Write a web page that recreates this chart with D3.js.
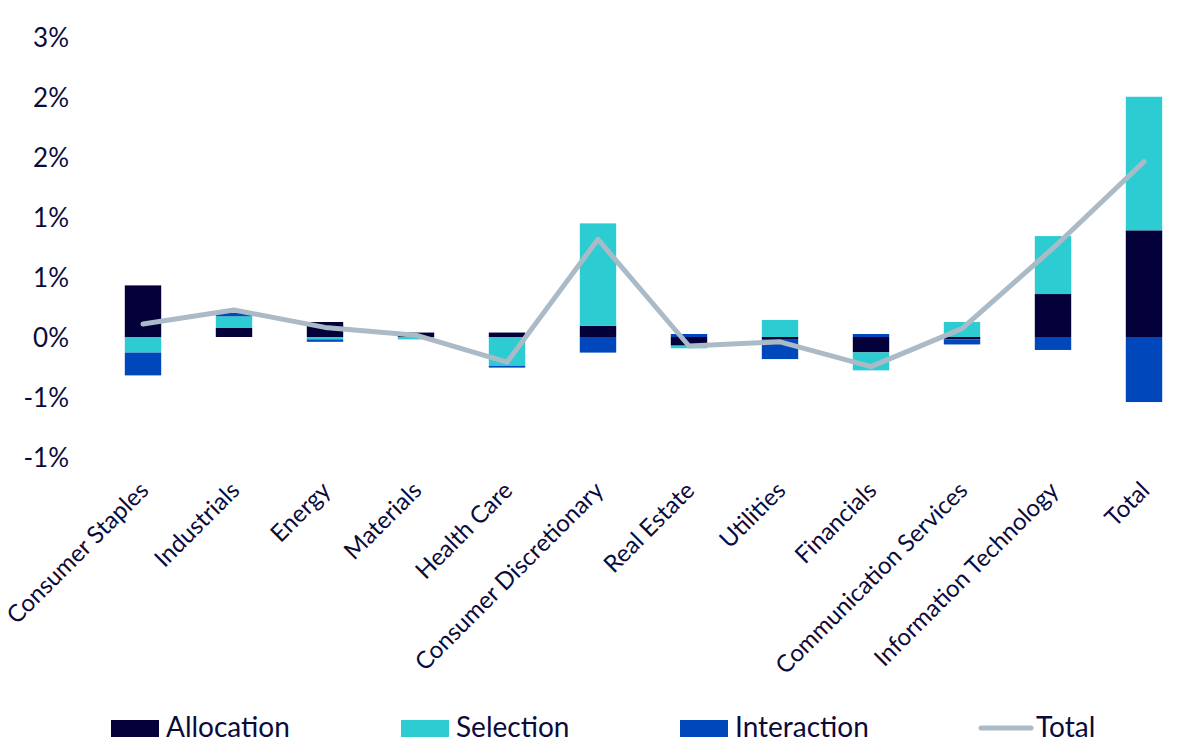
<!DOCTYPE html>
<html><head><meta charset="utf-8">
<script src="https://cdn.jsdelivr.net/npm/d3@7"></script>
<style>
html,body{margin:0;padding:0;background:#fff;}
svg{display:block;font-family:Lato,"Open Sans",sans-serif;}
</style></head>
<body>
<svg id="chart" width="1200" height="753"></svg>
<script>
const categories = ["Consumer Staples","Industrials","Energy","Materials","Health Care","Consumer Discretionary","Real Estate","Utilities","Financials","Communication Services","Information Technology","Total"];
const allocation  = [0.43, 0.075, 0.125, 0.037, 0.037, 0.094, -0.072, -0.017, -0.128, -0.02, 0.358, 0.889];
const selection   = [-0.13, 0.097, -0.02, -0.02, -0.24, 0.853, -0.022, 0.142, -0.15, 0.125, 0.483, 1.113];
const interaction = [-0.19, 0.03, -0.02, 0.0, -0.015, -0.13, 0.025, -0.167, 0.025, -0.042, -0.108, -0.542];
const total       = [0.108, 0.225, 0.08, 0.015, -0.21, 0.814, -0.075, -0.04, -0.247, 0.07, 0.74, 1.461];
const tickValues  = [2.5, 2.0, 1.5, 1.0, 0.5, 0, -0.5, -1.0];
const tickLabels  = ["3%","2%","2%","1%","1%","0%","-1%","-1%"];
const seriesNames = ["Allocation","Selection","Interaction","Total"];

const colors = {Allocation:"#03003A", Selection:"#2DCCD3", Interaction:"#0047BB", Total:"#ABBAC7"};
const textColor = "#0B0B3B";

const svg = d3.select("#chart");
const x = d3.scaleBand().domain(categories).range([97.5, 1189.5]).paddingInner(0.6).paddingOuter(0.3);
const y = d3.scaleLinear().domain([-1.0, 2.5]).range([457, 37]);

const rows = categories.map((c,i)=>({cat:c, Allocation:allocation[i], Selection:selection[i], Interaction:interaction[i]}));
const stack = d3.stack().keys(["Allocation","Selection","Interaction"]).offset(d3.stackOffsetDiverging);
const layers = stack(rows);

svg.append("g").selectAll("g").data(layers).join("g")
  .attr("fill", d=>colors[d.key])
  .selectAll("rect").data(d=>d).join("rect")
  .attr("x", d=>x(d.data.cat))
  .attr("width", x.bandwidth())
  .attr("y", d=>y(Math.max(d[0],d[1])))
  .attr("height", d=>Math.abs(y(d[0])-y(d[1])));

const line = d3.line().x((d,i)=>x(categories[i])+x.bandwidth()/2).y(d=>y(d));
svg.append("path").datum(total).attr("d", line)
  .attr("fill","none").attr("stroke",colors.Total).attr("stroke-width",5)
  .attr("stroke-linecap","round").attr("stroke-linejoin","round");

// Y axis
const yAxis = d3.axisLeft(y).tickValues(tickValues).tickFormat((d,i)=>tickLabels[i]).tickSize(0).tickPadding(0);
const gy = svg.append("g").attr("transform","translate(69,0)").call(yAxis);
gy.select(".domain").remove();
gy.selectAll("text").attr("fill",textColor).style("font-size","26px").style("font-family","Lato").attr("dy","0.35em");

// X axis labels
const xAxis = d3.axisBottom(x).tickSize(0).tickPadding(0);
const gx = svg.append("g").call(xAxis);
gx.select(".domain").remove();
gx.selectAll(".tick").attr("transform", d=>`translate(${x(d)+x.bandwidth()/2+7},492)`);
gx.selectAll("text").attr("fill",textColor).style("font-size","24px").style("font-family","Lato")
  .attr("text-anchor","end").attr("x",0).attr("y",0).attr("dy","0").attr("transform","rotate(-45)");

// Legend
const legendPos = [111, 401, 680, 979];
const lg = svg.append("g");
seriesNames.forEach((n,i)=>{
  const g = lg.append("g").attr("transform",`translate(${legendPos[i]},0)`);
  if(n==="Total"){
    g.append("line").attr("x1",2).attr("x2",52).attr("y1",728).attr("y2",728)
      .attr("stroke",colors.Total).attr("stroke-width",5).attr("stroke-linecap","round");
    g.append("text").attr("x",57).attr("y",737).text(n).attr("fill",textColor).style("font-size","28px");
  } else {
    g.append("rect").attr("x",0).attr("y",720).attr("width",48).attr("height",17).attr("fill",colors[n]);
    g.append("text").attr("x",55).attr("y",737).text(n).attr("fill",textColor).style("font-size","28px");
  }
});
</script>
</body></html>
